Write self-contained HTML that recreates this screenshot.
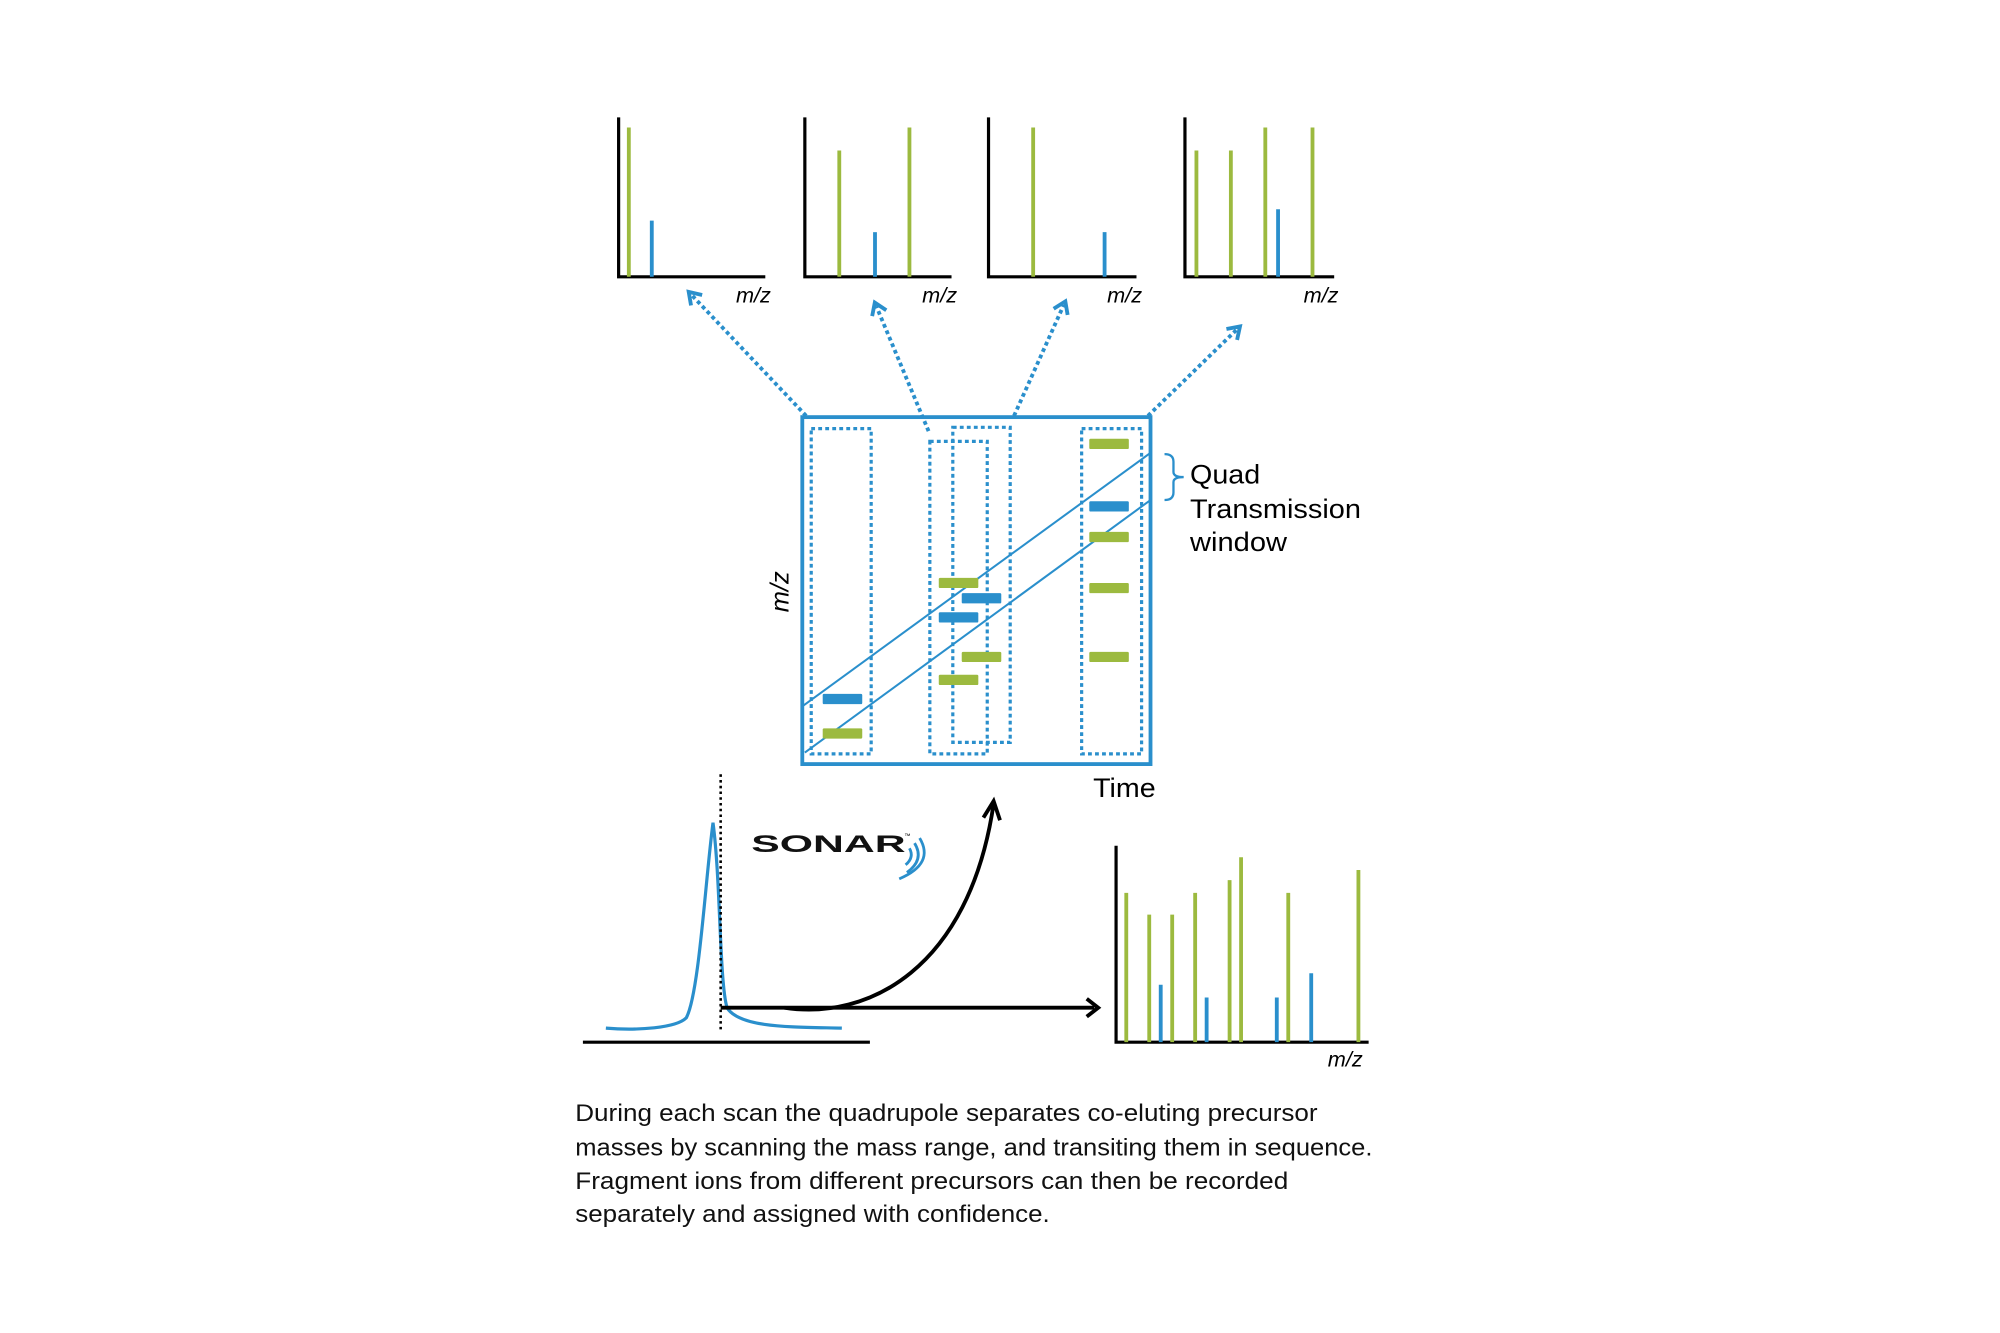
<!DOCTYPE html>
<html><head><meta charset="utf-8"><style>
html,body{margin:0;padding:0;background:#fff;}
svg{display:block;}
</style></head><body>
<svg width="2000" height="1333" viewBox="0 0 1568 1045" preserveAspectRatio="none" xmlns="http://www.w3.org/2000/svg" font-family="Liberation Sans, sans-serif">
<defs>
<marker id="bh" markerWidth="16" markerHeight="16" refX="8" refY="8" orient="auto" markerUnits="userSpaceOnUse" viewBox="0 0 16 16">
<path d="M2,2 L11,8 L2,14" fill="none" stroke="#2a8fcc" stroke-width="3"/></marker>
</defs>
<g stroke-width="3">
<path d="M485,92 V217 H600" fill="none" stroke="#000" stroke-width="2.5"/>
<line x1="493" y1="100" x2="493" y2="217" stroke="#9cba3f"/>
<line x1="511" y1="173" x2="511" y2="217" stroke="#2a8fcc"/>
<path d="M631,92 V217 H746" fill="none" stroke="#000" stroke-width="2.5"/>
<line x1="658" y1="118" x2="658" y2="217" stroke="#9cba3f"/>
<line x1="686" y1="182" x2="686" y2="217" stroke="#2a8fcc"/>
<line x1="713" y1="100" x2="713" y2="217" stroke="#9cba3f"/>
<path d="M775,92 V217 H891" fill="none" stroke="#000" stroke-width="2.5"/>
<line x1="810" y1="100" x2="810" y2="217" stroke="#9cba3f"/>
<line x1="866" y1="182" x2="866" y2="217" stroke="#2a8fcc"/>
<path d="M929,92 V217 H1046" fill="none" stroke="#000" stroke-width="2.5"/>
<line x1="938" y1="118" x2="938" y2="217" stroke="#9cba3f"/>
<line x1="965" y1="118" x2="965" y2="217" stroke="#9cba3f"/>
<line x1="992" y1="100" x2="992" y2="217" stroke="#9cba3f"/>
<line x1="1002" y1="164" x2="1002" y2="217" stroke="#2a8fcc"/>
<line x1="1029" y1="100" x2="1029" y2="217" stroke="#9cba3f"/>
</g>
<g font-style="italic" font-size="17" fill="#000">
<text x="577" y="237">m/z</text><text x="723" y="237">m/z</text>
<text x="868" y="237">m/z</text><text x="1022" y="237">m/z</text>
</g>
<g stroke="#2a8fcc" stroke-width="3" stroke-dasharray="3,2.5" fill="none" marker-end="url(#bh)">
<line x1="632" y1="326" x2="542" y2="231"/>
<line x1="728" y1="338" x2="687" y2="240"/>
<line x1="795" y1="326" x2="834" y2="239"/>
<line x1="900" y1="326" x2="970" y2="258"/>
</g>
<rect x="629" y="327" width="273" height="272" fill="none" stroke="#2a8fcc" stroke-width="3"/>
<g fill="none" stroke="#2a8fcc" stroke-width="2.5" stroke-dasharray="3,2.5">
<rect x="636" y="336" width="47" height="255"/>
<rect x="729" y="346" width="45" height="245"/>
<rect x="747" y="335" width="45" height="247"/>
<rect x="848" y="336" width="47" height="255"/>
</g>
<g stroke="#2a8fcc" stroke-width="1.6">
<line x1="630" y1="553" x2="902" y2="355"/>
<line x1="631" y1="590" x2="902" y2="392"/>
</g>
<g fill="#9cba3f">
<rect x="645" y="571" width="31" height="8" rx="1"/>
<rect x="736" y="453" width="31" height="8" rx="1"/>
<rect x="754" y="511" width="31" height="8" rx="1"/>
<rect x="736" y="529" width="31" height="8" rx="1"/>
<rect x="854" y="344" width="31" height="8" rx="1"/>
<rect x="854" y="417" width="31" height="8" rx="1"/>
<rect x="854" y="457" width="31" height="8" rx="1"/>
<rect x="854" y="511" width="31" height="8" rx="1"/>
</g>
<g fill="#2a8fcc">
<rect x="645" y="544" width="31" height="8" rx="1"/>
<rect x="754" y="465" width="31" height="8" rx="1"/>
<rect x="736" y="480" width="31" height="8" rx="1"/>
<rect x="854" y="393" width="31" height="8" rx="1"/>
</g>
<path d="M913,356 Q920,356 920,362 V370 Q920,374 928,374 Q920,374 920,378 V386 Q920,392 913,392" fill="none" stroke="#2a8fcc" stroke-width="1.8"/>
<g font-size="21" fill="#000">
<text x="933" y="379" textLength="55" lengthAdjust="spacingAndGlyphs">Quad</text>
<text x="933" y="406" textLength="134" lengthAdjust="spacingAndGlyphs">Transmission</text>
<text x="933" y="432" textLength="76" lengthAdjust="spacingAndGlyphs">window</text>
<text x="857" y="625" textLength="49" lengthAdjust="spacingAndGlyphs">Time</text>
</g>
<text transform="translate(618,480) rotate(-90)" font-style="italic" font-size="20">m/z</text>
<line x1="457" y1="817" x2="682" y2="817" stroke="#000" stroke-width="2.5"/>
<path d="M475,806 C500,808 530,806 538,798 C548,780 553,690 559,645 C565,690 564,770 570,790 C580,806 620,805 660,806" fill="none" stroke="#2a8fcc" stroke-width="2.5"/>
<line x1="565" y1="607" x2="565" y2="808" stroke="#000" stroke-width="2" stroke-dasharray="2,2.5"/>
<line x1="565" y1="790" x2="858" y2="790" stroke="#000" stroke-width="3"/>
<path d="M852,783 L861,790 L852,797" fill="none" stroke="#000" stroke-width="3"/>
<path d="M615,790 C680,800 760,760 779,630" fill="none" stroke="#000" stroke-width="3"/>
<path d="M771,641 L779,628 L784,643" fill="none" stroke="#000" stroke-width="3"/>
<text x="589" y="668" font-size="22" font-weight="bold" textLength="121" lengthAdjust="spacingAndGlyphs" fill="#111" transform="translate(589,668) scale(1,0.85) translate(-589,-668)">SONAR</text>
<text x="709" y="657" font-size="5">™</text>
<g fill="none" stroke="#2a8fcc" stroke-width="2.2">
<path d="M713,665 Q717,672 710,678"/>
<path d="M717,661 Q725,674 711,684"/>
<path d="M721,657 Q733,677 705,689"/>
</g>
<path d="M875,663 V817 H1073" fill="none" stroke="#000" stroke-width="2.5"/>
<g stroke-width="3">
<line x1="883" y1="700" x2="883" y2="817" stroke="#9cba3f"/>
<line x1="901" y1="717" x2="901" y2="817" stroke="#9cba3f"/>
<line x1="919" y1="717" x2="919" y2="817" stroke="#9cba3f"/>
<line x1="937" y1="700" x2="937" y2="817" stroke="#9cba3f"/>
<line x1="964" y1="690" x2="964" y2="817" stroke="#9cba3f"/>
<line x1="973" y1="672" x2="973" y2="817" stroke="#9cba3f"/>
<line x1="1010" y1="700" x2="1010" y2="817" stroke="#9cba3f"/>
<line x1="1065" y1="682" x2="1065" y2="817" stroke="#9cba3f"/>
<line x1="910" y1="772" x2="910" y2="817" stroke="#2a8fcc"/>
<line x1="946" y1="782" x2="946" y2="817" stroke="#2a8fcc"/>
<line x1="1001" y1="782" x2="1001" y2="817" stroke="#2a8fcc"/>
<line x1="1028" y1="763" x2="1028" y2="817" stroke="#2a8fcc"/>
</g>
<text x="1041" y="836" font-style="italic" font-size="17">m/z</text>
<g font-size="19" fill="#111">
<text x="451" y="879" textLength="582" lengthAdjust="spacingAndGlyphs">During each scan the quadrupole separates co-eluting precursor</text>
<text x="451" y="906" textLength="625" lengthAdjust="spacingAndGlyphs">masses by scanning the mass range, and transiting them in sequence.</text>
<text x="451" y="932" textLength="559" lengthAdjust="spacingAndGlyphs">Fragment ions from different precursors can then be recorded</text>
<text x="451" y="958" textLength="372" lengthAdjust="spacingAndGlyphs">separately and assigned with confidence.</text>
</g>
</svg>
</body></html>
